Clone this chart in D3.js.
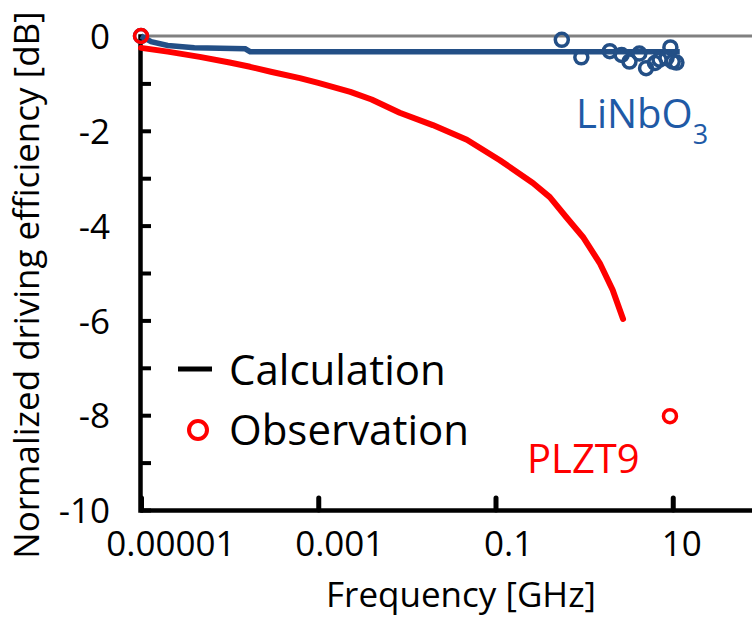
<!DOCTYPE html>
<html>
<head>
<meta charset="utf-8">
<script src="https://cdn.jsdelivr.net/npm/d3@7"></script>
<style>
  body { margin: 0; background: #fff; }
  svg { display: block; font-family: "Open Sans", sans-serif; }
</style>
</head>
<body>
<div id="chart"></div>
<script>
// x ticks (GHz) and their labels
let freqTicks = [0.00001, 0.001, 0.1, 10];
let freqTickLabels = ["0.00001", "0.001", "0.1", "10"];
let dbTicks = [0, -1, -2, -3, -4, -5, -6, -7, -8, -9, -10];

// LiNbO3, calculation
let lnCalcFreq = [0.00001, 0.000013, 0.00002, 0.00004, 0.00015, 0.00017, 12];
let lnCalcDb = [0, -0.12, -0.2, -0.25, -0.27, -0.33, -0.33];
// LiNbO3, observation
let lnObsFreq = [0.00001, 0.56, 0.93, 1.95, 2.65, 3.25, 4.2, 5.0, 6.3, 7.1, 8.5, 9.4, 10, 11];
let lnObsDb = [0, -0.08, -0.45, -0.32, -0.4, -0.54, -0.37, -0.68, -0.57, -0.5, -0.47, -0.24, -0.54, -0.56];

// PLZT9, calculation
let pzCalcFreq = [0.00001, 0.00002, 0.000046, 0.0001, 0.00017, 0.0003, 0.00062, 0.001, 0.0023, 0.004,
    0.0083, 0.0196, 0.0475, 0.112, 0.264, 0.41, 0.64, 0.97, 1.5, 2.1, 2.75];
let pzCalcDb = [-0.25, -0.33, -0.44, -0.56, -0.65, -0.76, -0.89, -0.99, -1.18, -1.34,
    -1.62, -1.88, -2.19, -2.62, -3.1, -3.4, -3.84, -4.24, -4.79, -5.36, -5.97];
// PLZT9, observation
let pzObsFreq = [0.00001, 9.3];
let pzObsDb = [0, -8.02];

let blue = "#234f86";
let red = "#ff0000";

let svg = d3.select('#chart')
    .append('svg')
    .attr('width', 752)
    .attr('height', 617);

let x = d3.scaleLog().domain([0.00001, 1000]).range([141, 850]);
let y = d3.scaleLinear().domain([-10, 0]).range([510, 36]);

// zero line
svg.append('line')
    .attr('x1', x(0.00001)).attr('x2', x(1000))
    .attr('y1', y(0)).attr('y2', y(0))
    .attr('stroke', '#808080')
    .attr('stroke-width', 3);

// y axis
let yAxis = d3.axisLeft(y)
    .tickValues(dbTicks)
    .tickSizeInner(-11)
    .tickSizeOuter(0)
    .tickFormat(d => d % 2 === 0 ? String(d) : '');
let gy = svg.append('g')
    .attr('transform', 'translate(140,0)')
    .call(yAxis);
gy.select('.domain').attr('stroke-width', 4.5).attr('stroke-linecap', 'square');
gy.selectAll('.tick line').attr('stroke-width', 4);
gy.selectAll('.tick').filter(d => d === 0).select('line').remove();
gy.selectAll('.tick text')
    .attr('x', -30)
    .attr('dy', '0.36em')
    .style('font-size', '35px')
    .style('font-family', '"Open Sans", sans-serif')
    .attr('fill', '#000');

// x axis
let xAxis = d3.axisBottom(x)
    .tickValues(freqTicks)
    .tickSizeInner(-12)
    .tickSizeOuter(0)
    .tickFormat((d, i) => freqTickLabels[i]);
let gx = svg.append('g')
    .attr('transform', 'translate(0,510)')
    .call(xAxis);
gx.select('.domain').attr('stroke-width', 4.5);
gx.selectAll('.tick line').attr('stroke-width', 5).attr('stroke-linecap', 'round');
gx.selectAll('.tick text')
    .attr('y', 46)
    .attr('dy', 0)
    .attr('dx', (d, i) => 4.2 * freqTickLabels[i].length)
    .style('font-size', '35px')
    .style('font-family', '"Open Sans", sans-serif')
    .attr('fill', '#000');

let line = d3.line()
    .x(d => x(d[0]))
    .y(d => y(d[1]));

// calculation curves
svg.append('path')
    .attr('d', line(d3.zip(lnCalcFreq, lnCalcDb)))
    .attr('fill', 'none')
    .attr('stroke', blue)
    .attr('stroke-width', 5.5);

svg.append('path')
    .attr('d', line(d3.zip(pzCalcFreq, pzCalcDb)))
    .attr('fill', 'none')
    .attr('stroke', red)
    .attr('stroke-width', 6)
    .attr('stroke-linecap', 'round')
    .attr('stroke-linejoin', 'round');

// observations
svg.append('g')
    .selectAll('circle')
    .data(d3.zip(lnObsFreq, lnObsDb))
    .join('circle')
    .attr('cx', d => x(d[0]))
    .attr('cy', d => y(d[1]))
    .attr('r', 6.5)
    .attr('fill', 'none')
    .attr('stroke', blue)
    .attr('stroke-width', 3.5);

svg.append('g')
    .selectAll('circle')
    .data(d3.zip(pzObsFreq, pzObsDb))
    .join('circle')
    .attr('cx', d => x(d[0]))
    .attr('cy', d => y(d[1]))
    .attr('r', 6.5)
    .attr('fill', 'none')
    .attr('stroke', red)
    .attr('stroke-width', 3.5);

// series labels
let lnLabel = svg.append('text')
    .attr('x', 576)
    .attr('y', 128)
    .attr('fill', '#1f5aa6')
    .style('font-size', '40px');
lnLabel.append('tspan').text('LiNbO');
lnLabel.append('tspan').attr('dy', 16).style('font-size', '27px').text('3');

svg.append('text')
    .attr('x', 527)
    .attr('y', 473)
    .attr('fill', red)
    .style('font-size', '40px')
    .text('PLZT9');

// legend
svg.append('line')
    .attr('x1', 178).attr('x2', 212)
    .attr('y1', 369).attr('y2', 369)
    .attr('stroke', '#000')
    .attr('stroke-width', 5);
svg.append('text')
    .attr('x', 229).attr('y', 385)
    .style('font-size', '42px')
    .text('Calculation');
svg.append('circle')
    .attr('cx', 198).attr('cy', 430)
    .attr('r', 9)
    .attr('fill', 'none')
    .attr('stroke', red)
    .attr('stroke-width', 4);
svg.append('text')
    .attr('x', 229).attr('y', 445)
    .style('font-size', '42px')
    .text('Observation');

// axis titles
svg.append('text')
    .attr('x', 461).attr('y', 607)
    .attr('text-anchor', 'middle')
    .style('font-size', '35px')
    .text('Frequency [GHz]');
svg.append('text')
    .attr('transform', 'translate(39,285) rotate(-90)')
    .attr('text-anchor', 'middle')
    .style('font-size', '35px')
    .text('Normalized driving efficiency [dB]');
</script>
</body>
</html>
